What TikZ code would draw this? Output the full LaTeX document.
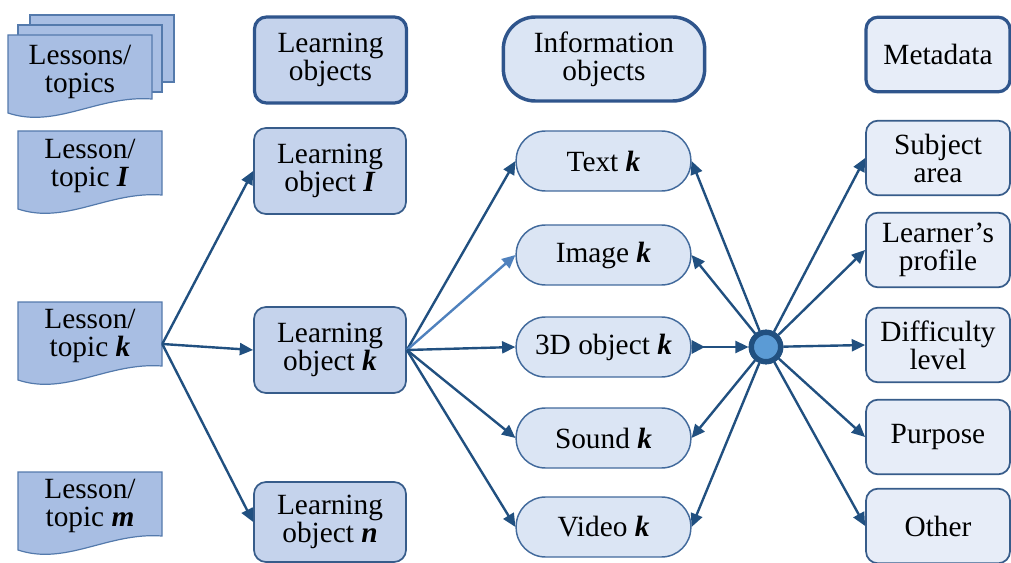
\documentclass[tikz,border=0pt]{standalone}
\usepackage{fontspec}
\setmainfont{Liberation Serif}
\usetikzlibrary{arrows.meta,calc}
\definecolor{lc}{RGB}{33,80,128}
\definecolor{lclight}{RGB}{79,129,189}
\definecolor{docfill}{RGB}{168,190,227}
\definecolor{docb}{RGB}{84,122,172}
\definecolor{lofill}{RGB}{197,211,236}
\definecolor{lob}{RGB}{55,92,138}
\definecolor{infofill}{RGB}{219,229,244}
\definecolor{infob}{RGB}{66,106,156}
\definecolor{metafill}{RGB}{231,237,248}
\definecolor{headb}{RGB}{47,85,140}
\definecolor{hubfill}{RGB}{91,155,213}
\newcommand\docwave[2]{%
  \draw[docshape, shift={(#1,#2)}] (0,0) -- (144,0) -- (144,64) .. controls (90,60) and (48,94) .. (0,78) -- cycle;}
\begin{document}
\begin{tikzpicture}[x=0.75pt,y=-0.75pt,
  font=\fontsize{22}{21}\selectfont,
  docshape/.style={draw=docb, fill=docfill, line width=0.9pt},
  doctext/.style={align=center, inner sep=0pt, minimum width=108pt, minimum height=52pt},
  lobox/.style={draw=lob, fill=lofill, line width=1.3pt, rounded corners=9pt, minimum width=114pt, minimum height=64.5pt, align=center, inner sep=0pt},
  lohead/.style={lobox, line width=2.4pt, draw=headb},
  infobox/.style={draw=infob, fill=infofill, line width=1.1pt, rounded corners=22pt, minimum width=131pt, minimum height=45pt, align=center, inner sep=0pt},
  infohead/.style={infobox, draw=headb, line width=2.6pt, rounded corners=24pt, minimum width=151pt, minimum height=63pt, fill=infofill},
  metabox/.style={draw=lob, fill=metafill, line width=1.3pt, rounded corners=9pt, minimum width=108pt, minimum height=56pt, align=center, inner sep=0pt},
  metahead/.style={metabox, line width=2.4pt, draw=headb},
  arr/.style={draw=lc, line width=1.8pt, -{Triangle[length=10pt,width=9pt]}},
  arrlight/.style={arr, draw=lclight, -{Triangle[length=10pt,width=9pt,fill=lclight]}},
  hubstyle/.style={circle, fill=hubfill, draw=lc, line width=4pt, minimum size=22pt, inner sep=0pt}
]
\useasboundingbox (0,0) rectangle (1011,563);

% ---- column 1: lessons / topics
\draw[docshape] (30,15) rectangle (174,82);
\draw[docshape] (18,25) rectangle (162,92);
\docwave{8}{35}
\node[doctext] (lst) at (80,72) {Lessons/\\topics};
\docwave{18}{131}
\node[doctext] (l1) at (90,166) {Lesson/\\topic \textbf{\textit{I}}};
\docwave{18}{302}
\node[doctext] (lk) at (90,336) {Lesson/\\topic \textbf{\textit{k}}};
\docwave{18}{472}
\node[doctext] (lm) at (90,506) {Lesson/\\topic \textbf{\textit{m}}};

% ---- column 2: learning objects
\node[lohead] (loh) at (330.5,60) {Learning\\objects};
\node[lobox] (lo1) at (330,171) {Learning\\object \textbf{\textit{I}}};
\node[lobox] (lok) at (330,350) {Learning\\object \textbf{\textit{k}}};
\node[lobox, minimum height=60pt] (lon) at (330,522) {Learning\\object \textbf{\textit{n}}};

% ---- column 3: information objects
\node[infohead] (ioh) at (604,59) {Information\\objects};
\node[infobox] (tk) at (603.5,161) {Text \textbf{\textit{k}}};
\node[infobox] (ik) at (603.5,255) {Image \textbf{\textit{k}}};
\node[infobox] (dk) at (603.5,347) {3D object \textbf{\textit{k}}};
\node[infobox] (sk) at (603.5,438) {Sound \textbf{\textit{k}}};
\node[infobox] (vk) at (603.5,527) {Video \textbf{\textit{k}}};

% ---- column 4: metadata
\node[metahead] (mh) at (938,54.5) {Metadata};
\node[metabox] (sa) at (938,158) {Subject\\area};
\node[metabox] (lp) at (938,250) {Learner’s\\profile};
\node[metabox] (dl) at (938,345) {Difficulty\\level};
\node[metabox] (pu) at (938,437) {Purpose};
\node[metabox] (ot) at (938,526) {Other};

% ---- hub
\node[hubstyle] (hub) at (766,347) {};

% ---- connectors
\draw[arr] ([yshift=-6pt]lk.east) -- (lo1.west);
\draw[arr] ([yshift=-6pt]lk.east) -- (lok.west);
\draw[arr] ([yshift=-6pt]lk.east) -- (lon.west);

\draw[arr] (lok.east) -- (tk.west);
\draw[arrlight] (lok.east) -- (ik.west);
\draw[arr] (lok.east) -- (dk.west);
\draw[arr] (lok.east) -- (sk.west);
\draw[arr] (lok.east) -- (vk.west);

\draw[arr] (hub) -- (tk.east);
\draw[arr] (hub) -- (ik.east);
\draw[draw=lc, line width=1.8pt, {Triangle[reversed,length=10pt,width=10pt]}-{Triangle[length=10pt,width=9pt]}] (dk.east) -- (hub);
\draw[arr] (hub) -- (sk.east);
\draw[arr] (hub) -- (vk.east);

\draw[arr] (hub) -- (sa.west);
\draw[arr] (hub) -- (lp.west);
\draw[arr] (hub) -- (dl.west);
\draw[arr] (hub) -- (pu.west);
\draw[arr] (hub) -- (ot.west);

\node[hubstyle] (hubtop) at (hub) {};
\end{tikzpicture}
\end{document}
